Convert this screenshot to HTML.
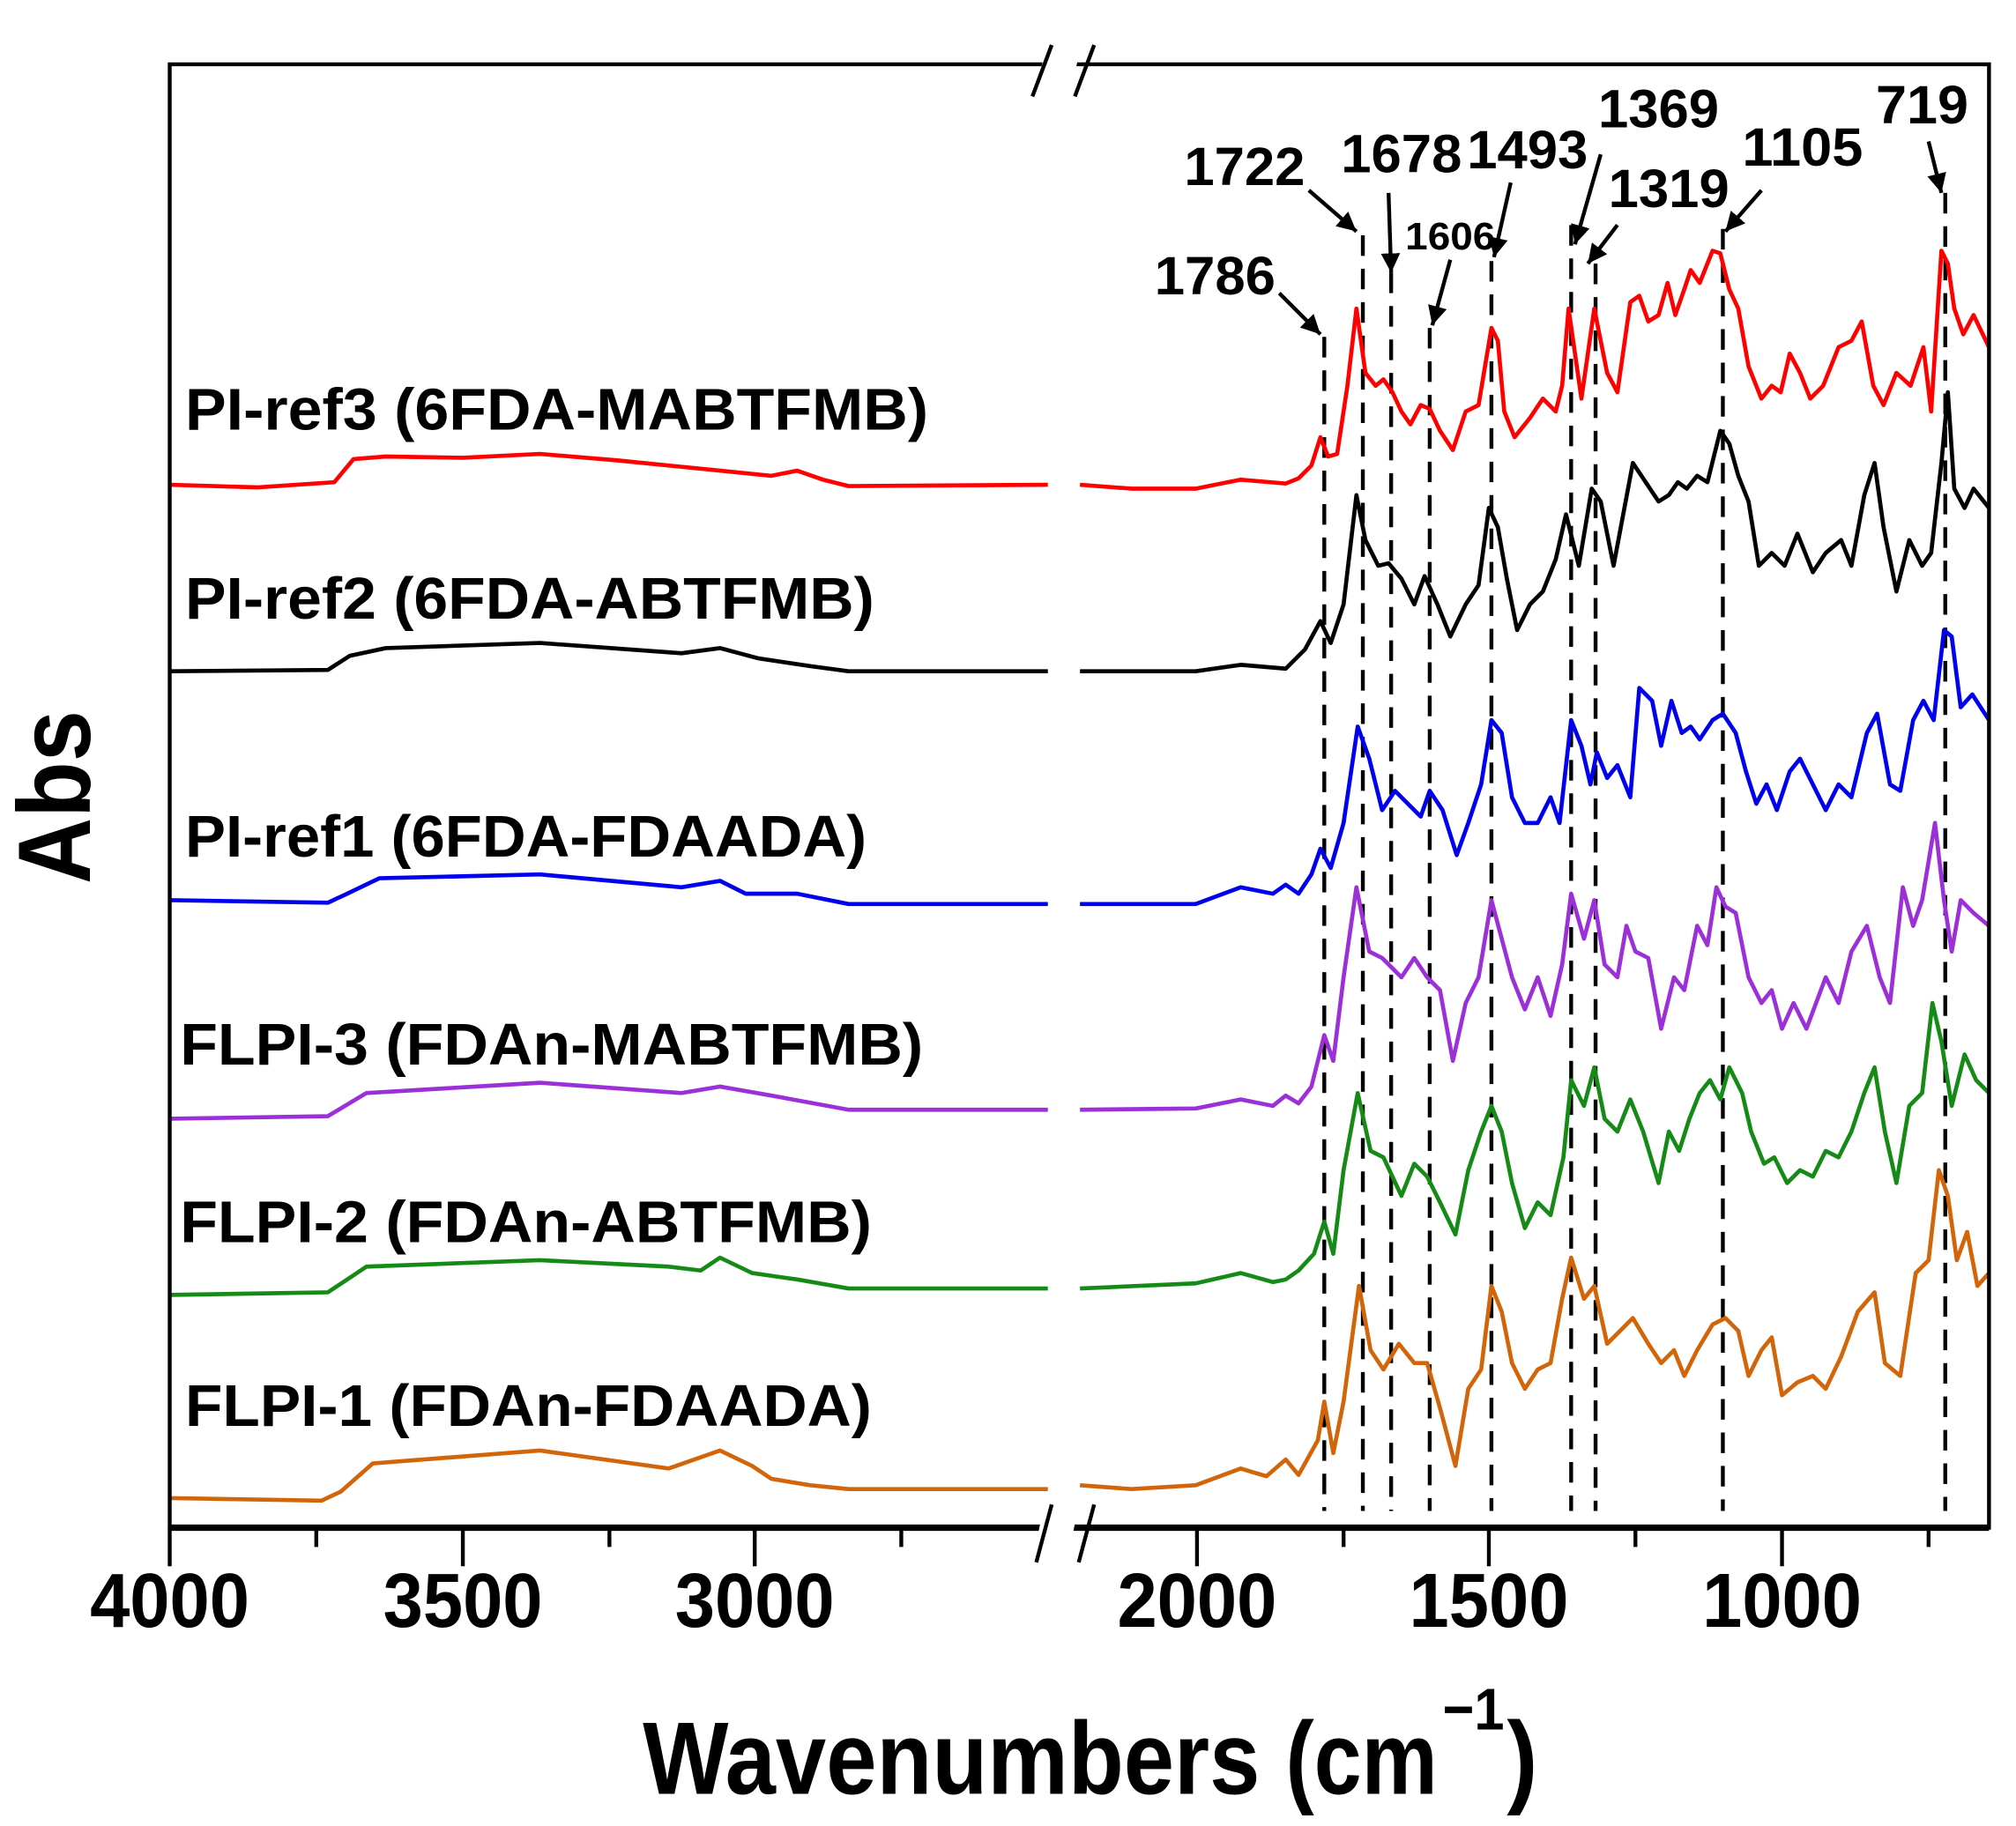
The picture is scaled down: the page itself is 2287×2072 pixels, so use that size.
<!DOCTYPE html>
<html><head><meta charset="utf-8"><style>html,body{margin:0;padding:0;background:#fff}svg{display:block}</style></head>
<body>
<svg width="2287" height="2072" viewBox="0 0 1568 1420" preserveAspectRatio="none" xmlns="http://www.w3.org/2000/svg" font-family="Liberation Sans, Arial, sans-serif" font-weight="bold">
<defs><marker id="ah" viewBox="0 0 10 10" refX="10" refY="5" markerWidth="5" markerHeight="5" orient="auto"><path d="M0,0 L10,5 L0,10 z" fill="#000"/></marker></defs>
<rect x="0" y="0" width="1568" height="1420" fill="#fff"/>
<g stroke="#000" stroke-width="3" stroke-dasharray="16,10" fill="none">
<line x1="1030" y1="262" x2="1030" y2="1175"/>
<line x1="1060" y1="183" x2="1060" y2="1175"/>
<line x1="1082" y1="212" x2="1082" y2="1175"/>
<line x1="1112" y1="255" x2="1112" y2="1175"/>
<line x1="1160" y1="203" x2="1160" y2="1175"/>
<line x1="1222" y1="175" x2="1222" y2="1175"/>
<line x1="1241" y1="205" x2="1241" y2="1175"/>
<line x1="1340" y1="178" x2="1340" y2="1175"/>
<line x1="1513" y1="150" x2="1513" y2="1175"/>
</g>
<g fill="none" stroke-width="3.2" stroke-linejoin="round">
<polyline stroke="#ff0000" points="132,377 200,379 260,375 275,357 300,355 360,356 420,353 480,358 550,365 600,370 620,366 640,373 660,378 815,377"/>
<polyline stroke="#ff0000" points="840,377 880,380 930,380 965,373 1000,376 1010,372 1020,362 1027,340 1033,355 1040,353 1048,300 1055,240 1062,290 1070,300 1076,295 1083,305 1090,320 1097,330 1105,315 1112,318 1120,335 1130,350 1140,320 1150,315 1160,255 1165,265 1170,320 1178,340 1190,325 1200,310 1210,320 1215,300 1220,240 1230,310 1240,240 1250,290 1258,305 1268,235 1275,230 1282,250 1290,245 1297,220 1303,245 1310,225 1315,210 1322,220 1332,195 1338,197 1345,225 1352,240 1360,285 1370,310 1378,300 1385,305 1392,275 1400,290 1408,310 1418,300 1430,270 1440,265 1448,250 1457,300 1465,315 1475,290 1486,300 1496,270 1502,320 1510,195 1515,205 1520,240 1527,260 1535,245 1547,270"/>
<polyline stroke="#000000" points="132,522 255,521 272,510 300,504 420,500 530,508 560,504 590,512 630,518 660,522 815,522"/>
<polyline stroke="#000000" points="840,522 930,522 965,517 1000,520 1015,505 1027,483 1035,500 1045,470 1055,385 1062,420 1072,440 1080,438 1090,450 1100,470 1108,448 1118,470 1128,495 1140,470 1150,455 1158,395 1165,410 1172,450 1180,490 1190,470 1200,460 1210,435 1218,400 1228,440 1238,380 1245,390 1255,440 1270,360 1280,375 1290,390 1298,385 1305,375 1312,380 1320,370 1328,375 1338,335 1345,345 1352,370 1360,390 1368,440 1378,430 1388,440 1398,415 1410,445 1420,430 1432,420 1440,440 1450,385 1458,360 1465,410 1475,460 1485,420 1495,440 1502,430 1510,360 1515,305 1520,380 1528,395 1535,380 1547,395"/>
<polyline stroke="#0000ee" points="132,700 255,702 270,695 295,683 420,680 530,690 560,685 580,695 620,695 660,703 815,703"/>
<polyline stroke="#0000ee" points="840,703 930,703 965,690 990,695 1000,688 1010,695 1020,680 1027,660 1035,675 1045,640 1056,565 1065,590 1075,630 1085,615 1095,625 1105,635 1112,615 1122,630 1133,665 1142,640 1152,610 1160,560 1168,570 1176,620 1186,640 1196,640 1206,620 1213,640 1222,560 1230,580 1237,610 1242,585 1250,605 1258,595 1268,620 1275,535 1285,545 1292,580 1300,545 1308,570 1315,565 1322,575 1332,560 1340,555 1350,570 1358,600 1366,625 1374,610 1382,630 1392,600 1400,590 1410,610 1420,630 1430,610 1440,620 1452,570 1460,555 1470,610 1478,615 1488,560 1496,545 1504,560 1512,490 1518,495 1525,550 1534,540 1547,560"/>
<polyline stroke="#9b30d9" points="132,870 255,868 285,850 420,842 530,850 560,845 600,852 660,863 815,863"/>
<polyline stroke="#9b30d9" points="840,863 930,862 965,855 990,860 1000,852 1010,858 1020,845 1030,805 1037,825 1045,760 1055,690 1065,740 1075,745 1090,760 1100,745 1110,760 1120,770 1130,825 1140,780 1150,760 1160,700 1168,730 1176,760 1186,785 1196,760 1206,790 1215,750 1222,695 1232,730 1240,700 1248,750 1258,760 1265,720 1272,740 1282,745 1292,800 1302,760 1310,770 1320,720 1328,735 1335,690 1342,705 1350,710 1360,760 1370,780 1378,770 1386,800 1395,780 1405,800 1420,760 1430,780 1440,740 1452,720 1462,760 1470,780 1480,690 1488,720 1495,700 1505,640 1512,700 1518,740 1525,700 1535,710 1547,720"/>
<polyline stroke="#168a16" points="132,1007 255,1005 285,985 420,980 520,985 545,988 560,978 585,990 620,995 660,1002 815,1002"/>
<polyline stroke="#168a16" points="840,1002 930,998 965,990 990,997 1000,995 1010,988 1022,975 1030,950 1037,975 1045,910 1056,850 1066,895 1076,900 1090,930 1100,905 1110,915 1120,935 1132,960 1142,910 1152,880 1160,860 1168,880 1176,920 1186,955 1196,935 1206,945 1216,900 1222,840 1232,860 1240,830 1248,870 1258,880 1268,855 1278,880 1290,920 1298,880 1306,895 1314,870 1322,850 1330,840 1338,855 1345,830 1355,850 1362,880 1372,905 1380,900 1390,920 1400,910 1410,915 1420,895 1430,900 1440,880 1450,850 1458,830 1466,880 1475,920 1485,860 1495,850 1503,780 1510,810 1518,860 1528,820 1537,840 1547,850"/>
<polyline stroke="#d2650a" points="132,1165 250,1167 265,1160 290,1138 420,1128 520,1142 560,1128 585,1140 600,1150 630,1155 660,1158 815,1158"/>
<polyline stroke="#d2650a" points="840,1155 880,1158 930,1155 965,1142 985,1148 1000,1135 1010,1147 1025,1120 1030,1090 1037,1130 1045,1090 1057,1000 1066,1050 1076,1065 1088,1045 1100,1060 1110,1060 1120,1095 1132,1140 1142,1080 1152,1065 1160,1000 1168,1020 1176,1060 1186,1080 1196,1065 1206,1060 1215,1010 1222,978 1232,1010 1240,1000 1250,1045 1260,1035 1270,1025 1282,1045 1292,1060 1302,1050 1310,1070 1320,1050 1332,1030 1342,1025 1352,1035 1360,1070 1370,1050 1378,1040 1386,1085 1398,1075 1410,1070 1420,1080 1432,1055 1445,1020 1458,1005 1466,1060 1478,1070 1490,990 1500,980 1508,910 1515,930 1522,980 1530,958 1538,1000 1547,990"/>
</g>
<rect x="132" y="50" width="1415" height="1138" fill="none" stroke="#000" stroke-width="3"/>
<line x1="132" y1="1188" x2="1547" y2="1188" stroke="#000" stroke-width="5"/>
<g stroke="#000" stroke-width="3">
<line x1="132" y1="1188" x2="132" y2="1218"/><line x1="360" y1="1188" x2="360" y2="1218"/><line x1="587" y1="1188" x2="587" y2="1218"/>
<line x1="931" y1="1188" x2="931" y2="1218"/><line x1="1158" y1="1188" x2="1158" y2="1218"/><line x1="1386" y1="1188" x2="1386" y2="1218"/>
<line x1="246" y1="1188" x2="246" y2="1203"/><line x1="474" y1="1188" x2="474" y2="1203"/><line x1="701" y1="1188" x2="701" y2="1203"/>
<line x1="1045" y1="1188" x2="1045" y2="1203"/><line x1="1272" y1="1188" x2="1272" y2="1203"/><line x1="1500" y1="1188" x2="1500" y2="1203"/>
</g>
<polygon points="813,40 840,40 830,80 803,80" fill="#fff"/>
<polygon points="813,1165 840,1165 830,1215 803,1215" fill="#fff"/>
<g stroke="#000" stroke-width="3">
<line x1="818" y1="35" x2="803" y2="75"/><line x1="851" y1="35" x2="836" y2="75"/>
<line x1="818" y1="1170" x2="806" y2="1215"/><line x1="851" y1="1170" x2="839" y2="1215"/>
</g>
<g font-size="60" text-anchor="middle">
<text x="132" y="1265" textLength="124" lengthAdjust="spacingAndGlyphs">4000</text>
<text x="360" y="1265" textLength="124" lengthAdjust="spacingAndGlyphs">3500</text>
<text x="587" y="1265" textLength="124" lengthAdjust="spacingAndGlyphs">3000</text>
<text x="931" y="1265" textLength="124" lengthAdjust="spacingAndGlyphs">2000</text>
<text x="1158" y="1265" textLength="124" lengthAdjust="spacingAndGlyphs">1500</text>
<text x="1386" y="1265" textLength="124" lengthAdjust="spacingAndGlyphs">1000</text>
</g>
<text x="500" y="1395" font-size="80" textLength="480" lengthAdjust="spacingAndGlyphs">Wavenumbers</text>
<text x="1000" y="1395" font-size="80" textLength="118" lengthAdjust="spacingAndGlyphs">(cm</text>
<text x="1122" y="1345" font-size="46" textLength="48" lengthAdjust="spacingAndGlyphs">−1</text>
<text x="1172" y="1395" font-size="80" textLength="24" lengthAdjust="spacingAndGlyphs">)</text>
<text transform="translate(70,620) rotate(-90)" text-anchor="middle" font-size="80" textLength="135" lengthAdjust="spacingAndGlyphs">Abs</text>
<g font-size="46">
<text x="144" y="334" textLength="578" lengthAdjust="spacingAndGlyphs">PI-ref3 (6FDA-MABTFMB)</text>
<text x="144" y="481" textLength="536" lengthAdjust="spacingAndGlyphs">PI-ref2 (6FDA-ABTFMB)</text>
<text x="144" y="666" textLength="530" lengthAdjust="spacingAndGlyphs">PI-ref1 (6FDA-FDAADA)</text>
<text x="140" y="828" textLength="578" lengthAdjust="spacingAndGlyphs">FLPI-3 (FDAn-MABTFMB)</text>
<text x="140" y="966" textLength="538" lengthAdjust="spacingAndGlyphs">FLPI-2 (FDAn-ABTFMB)</text>
<text x="144" y="1109" textLength="534" lengthAdjust="spacingAndGlyphs">FLPI-1 (FDAn-FDAADA)</text>
</g>
<g font-size="42" text-anchor="middle">
<text x="945" y="229" textLength="94" lengthAdjust="spacingAndGlyphs">1786</text>
<text x="968" y="144" textLength="94" lengthAdjust="spacingAndGlyphs">1722</text>
<text x="1090" y="134" textLength="94" lengthAdjust="spacingAndGlyphs">1678</text>
<text x="1188" y="131" textLength="94" lengthAdjust="spacingAndGlyphs">1493</text>
<text x="1290" y="99" textLength="94" lengthAdjust="spacingAndGlyphs">1369</text>
<text x="1298" y="161" textLength="94" lengthAdjust="spacingAndGlyphs">1319</text>
<text x="1402" y="129" textLength="94" lengthAdjust="spacingAndGlyphs">1105</text>
<text x="1495" y="96" textLength="72" lengthAdjust="spacingAndGlyphs">719</text>
<text x="1128" y="194" font-size="30" textLength="70" lengthAdjust="spacingAndGlyphs">1606</text>
</g>
<g stroke="#000" stroke-width="3" marker-end="url(#ah)">
<line x1="995" y1="228" x2="1027" y2="260"/>
<line x1="1018" y1="148" x2="1055" y2="180"/>
<line x1="1080" y1="150" x2="1082" y2="212"/>
<line x1="1128" y1="202" x2="1114" y2="253"/>
<line x1="1175" y1="142" x2="1162" y2="200"/>
<line x1="1245" y1="120" x2="1225" y2="190"/>
<line x1="1258" y1="175" x2="1235" y2="205"/>
<line x1="1370" y1="148" x2="1342" y2="180"/>
<line x1="1500" y1="110" x2="1510" y2="150"/>
</g>
</svg>
</body></html>
